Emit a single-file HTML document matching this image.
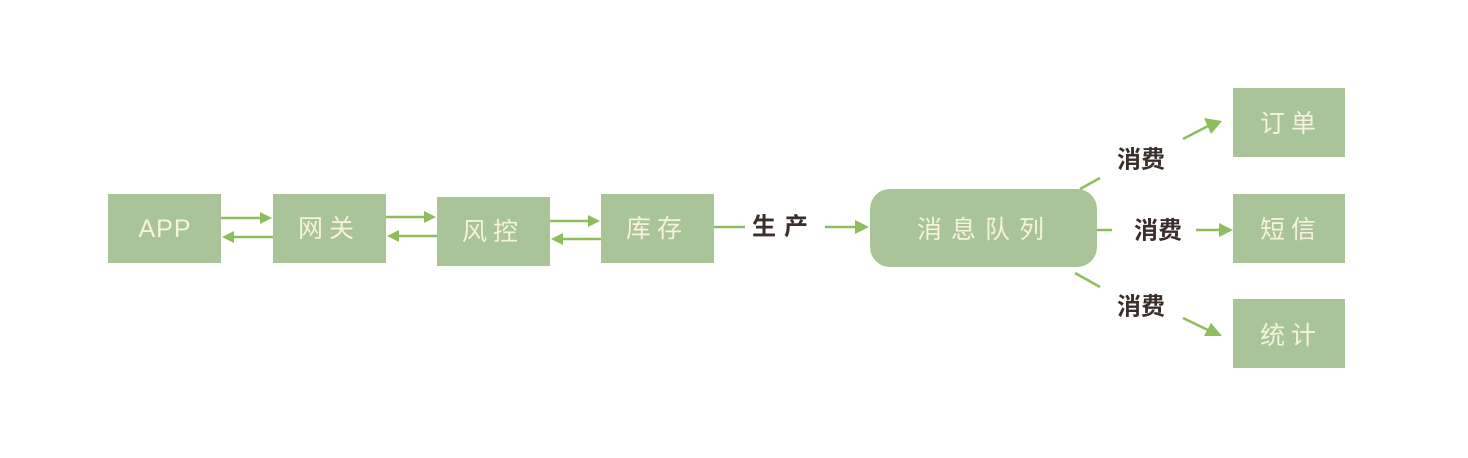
<!DOCTYPE html>
<html><head><meta charset="utf-8"><style>
html,body{margin:0;padding:0;background:#fff;width:1468px;height:458px;overflow:hidden}
svg{display:block}
.b{fill:#a8c498}
.t{fill:#f6f2dc;font-family:"Liberation Sans","Noto Sans CJK SC",sans-serif;font-size:25px;text-anchor:middle;dominant-baseline:central}
.l{fill:#3a2f2a;font-family:"Liberation Sans","Noto Sans CJK SC",sans-serif;font-size:24px;font-weight:bold;text-anchor:middle;dominant-baseline:central}
.a{stroke:#8dbd5c;stroke-width:2.5;fill:none}
.h{fill:#8dbd5c}
</style></head><body>
<svg width="1468" height="458" viewBox="0 0 1468 458">
<rect class="b" x="108" y="194" width="113" height="69"/>
<rect class="b" x="273" y="194" width="113" height="69"/>
<rect class="b" x="437" y="197" width="113" height="69"/>
<rect class="b" x="601" y="194" width="113" height="69"/>
<rect class="b" x="870" y="189" width="227" height="78" rx="20"/>
<rect class="b" x="1233" y="88" width="112" height="69"/>
<rect class="b" x="1233" y="194" width="112" height="69"/>
<rect class="b" x="1233" y="299" width="112" height="69"/>
<text class="t" x="165" y="229" style="letter-spacing:1px">APP</text>
<text class="t" x="329" y="229" style="letter-spacing:6px">网关</text>
<text class="t" x="493" y="232" style="letter-spacing:6px">风控</text>
<text class="t" x="657" y="229" style="letter-spacing:6px">库存</text>
<text class="t" x="985" y="230" style="letter-spacing:9px">消息队列</text>
<text class="t" x="1291" y="124" style="letter-spacing:6px">订单</text>
<text class="t" x="1291" y="230" style="letter-spacing:6px">短信</text>
<text class="t" x="1291" y="336" style="letter-spacing:6px">统计</text>
<line class="a" x1="221" y1="218" x2="262" y2="218"/><polygon class="h" points="260,212 272,218 260,224"/>
<line class="a" x1="273" y1="237" x2="232" y2="237"/><polygon class="h" points="234,231 222,237 234,243"/>
<line class="a" x1="386" y1="217" x2="426" y2="217"/><polygon class="h" points="424,211 436,217 424,223"/>
<line class="a" x1="437" y1="236" x2="397" y2="236"/><polygon class="h" points="399,230 387,236 399,242"/>
<line class="a" x1="550" y1="221" x2="590" y2="221"/><polygon class="h" points="588,215 600,221 588,227"/>
<line class="a" x1="601" y1="239" x2="561" y2="239"/><polygon class="h" points="563,233 551,239 563,245"/>
<line class="a" x1="714" y1="227" x2="745" y2="227"/>
<text class="l" x="784" y="227" style="letter-spacing:8px">生产</text>
<line class="a" x1="825" y1="227" x2="858" y2="227"/><polygon class="h" points="855,220 869,227 855,234"/>
<line class="a" x1="1080" y1="189" x2="1100" y2="178"/>
<text class="l" x="1141" y="160">消费</text>
<line class="a" x1="1183" y1="139" x2="1210" y2="125"/><polygon class="h" points="1204,118 1222,121 1211,134"/>
<line class="a" x1="1097" y1="230" x2="1112" y2="230"/>
<text class="l" x="1158" y="231">消费</text>
<line class="a" x1="1196" y1="230" x2="1222" y2="230"/><polygon class="h" points="1219,223 1233,230 1219,237"/>
<line class="a" x1="1075" y1="273" x2="1100" y2="287"/>
<text class="l" x="1141" y="307">消费</text>
<line class="a" x1="1183" y1="318" x2="1210" y2="331"/><polygon class="h" points="1211,323 1222,336 1204,336"/>
</svg>
</body></html>
